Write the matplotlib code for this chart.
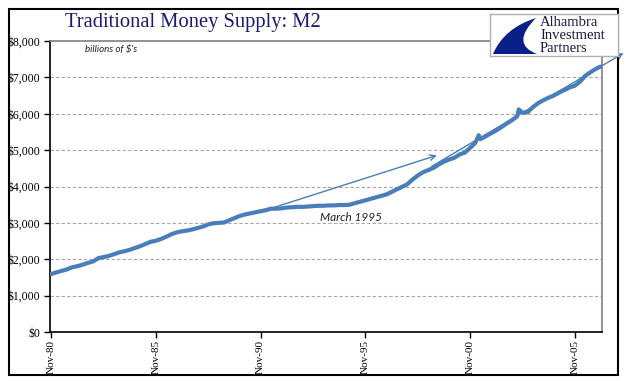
import matplotlib
matplotlib.use('Agg')
import matplotlib.pyplot as plt
import pandas as pd
from matplotlib.patches import Rectangle, PathPatch
from matplotlib.path import Path

months = [
    '1980-11', '1981-02', '1981-05', '1981-08', '1981-11', '1982-02', '1982-05', '1982-08', '1982-11',
    '1983-02', '1983-05', '1983-08', '1983-11', '1984-02', '1984-05', '1984-08', '1984-11',
    '1985-02', '1985-05', '1985-08', '1985-11', '1986-02', '1986-05', '1986-08', '1986-11',
    '1987-02', '1987-05', '1987-08', '1987-11', '1988-02', '1988-05', '1988-08', '1988-11',
    '1989-02', '1989-05', '1989-08', '1989-11', '1990-02', '1990-05', '1990-08', '1990-11',
    '1991-02', '1991-05', '1991-08', '1991-11', '1992-02', '1992-05', '1992-08', '1992-11',
    '1993-02', '1993-05', '1993-08', '1993-11', '1994-02', '1994-05', '1994-08', '1994-11',
    '1995-02', '1995-05', '1995-08', '1995-11', '1996-02', '1996-05', '1996-08', '1996-11',
    '1997-02', '1997-05', '1997-08', '1997-11', '1998-02', '1998-05', '1998-08', '1998-11',
    '1999-02', '1999-05', '1999-08', '1999-11', '2000-02', '2000-05', '2000-08', '2000-11',
    '2001-02', '2001-04', '2001-05', '2001-08', '2001-11', '2002-02', '2002-05', '2002-08', '2002-11',
    '2003-02', '2003-03', '2003-05', '2003-08', '2003-11', '2004-02', '2004-05', '2004-08', '2004-11',
    '2005-02', '2005-05', '2005-08', '2005-11', '2006-02', '2006-05', '2006-08', '2006-11',
    '2007-02',
]
m2 = [
    1595, 1640, 1680, 1720, 1780, 1810, 1850, 1900, 1940,
    2030, 2060, 2090, 2140, 2190, 2220, 2260, 2310,
    2360, 2420, 2480, 2510, 2560, 2620, 2690, 2740,
    2770, 2790, 2820, 2860, 2900, 2960, 2990, 3000,
    3010, 3070, 3130, 3190, 3230, 3260, 3290, 3320,
    3350, 3390, 3390, 3400, 3420, 3430, 3440, 3440,
    3450, 3460, 3470, 3470, 3480, 3480, 3490, 3490,
    3500, 3540, 3580, 3620, 3660, 3700, 3740, 3780,
    3850, 3920, 3990, 4060, 4190, 4300, 4390, 4450,
    4510, 4600, 4680, 4740, 4790, 4880, 4930, 5060,
    5200, 5410, 5300, 5380, 5460, 5540, 5630, 5730, 5820,
    5930, 6120, 6030, 6040, 6180, 6290, 6370, 6440, 6500,
    6580, 6650, 6720, 6770, 6880, 7040, 7140, 7230,
    7300,
]
x_ticks = ['1980-11', '1985-11', '1990-11', '1995-11', '2000-11', '2005-11']
x_tick_labels = ['Nov-80', 'Nov-85', 'Nov-90', 'Nov-95', 'Nov-00', 'Nov-05']
y_ticks = [0, 1000, 2000, 3000, 4000, 5000, 6000, 7000, 8000]
y_tick_labels = ['$0', '$1,000', '$2,000', '$3,000', '$4,000', '$5,000', '$6,000', '$7,000', '$8,000']

arrow1 = (('1999-01', 4552), ('2008-03', 7669))
arrow2 = (('1991-01', 3338), ('1999-04', 4855))
note = ('1995-03', 3140, 'March 1995')

W, H = 641, 381
fig = plt.figure(figsize=(W / 100, H / 100), dpi=100)

def fx(px):
    return px / W

def fy(py):
    return 1 - py / H

ax = fig.add_axes([fx(50), fy(332), fx(602) - fx(50), fy(41) - fy(332)])
dates = pd.to_datetime(months)
blue = '#4a7ebb'
ax.plot(dates, m2, color=blue, lw=3.0, solid_capstyle='round', solid_joinstyle='round', zorder=3)

ax.set_ylim(0, 8000)
ax.set_xlim(pd.Timestamp('1980-10-10'), pd.Timestamp('2007-02-20'))
ax.set_yticks(y_ticks)
ax.set_yticklabels(y_tick_labels)
ax.set_xticks(pd.to_datetime(x_ticks))
ax.set_xticklabels(x_tick_labels, rotation=90)
for lab in ax.get_yticklabels():
    lab.set_fontfamily('Liberation Serif')
    lab.set_fontsize(8.5)
for lab in ax.get_xticklabels():
    lab.set_fontfamily('Liberation Serif')
    lab.set_fontsize(8)
ax.tick_params(axis='both', direction='out', length=4, width=1, pad=3, colors='black')
ax.tick_params(axis='x', pad=2)

for y in y_ticks[1:-1]:
    ax.axhline(y, color='#a6a6a6', lw=0.8, ls=(0, (3, 2)), zorder=1)

for side in ('left', 'bottom'):
    ax.spines[side].set_color('black')
    ax.spines[side].set_linewidth(1.2)
for side in ('top', 'right'):
    ax.spines[side].set_color('#808080')
    ax.spines[side].set_linewidth(1.2)

for (s, e) in (arrow1, arrow2):
    ax.annotate('', xy=(pd.Timestamp(e[0]), e[1]), xytext=(pd.Timestamp(s[0]), s[1]),
                arrowprops=dict(arrowstyle='->', color=blue, lw=1.0, shrinkA=0, shrinkB=0,
                                mutation_scale=10),
                annotation_clip=False, zorder=4)

ax.text(pd.Timestamp(note[0]), note[1], note[2], ha='center', va='center',
        fontsize=8.5, style='italic', family='Lato', color='#222222')
ax.text(0.063, 0.972, "billions of $'s", transform=ax.transAxes, ha='left', va='center',
        fontsize=7, style='italic', family='Lato', color='#222222')

# title
fig.text(fx(65), fy(23), 'Traditional Money Supply: M2', ha='left', va='center',
         fontsize=14.8, family='Liberation Serif', color='#1a1a70')

# logo
lax = fig.add_axes([fx(490), fy(56), fx(618) - fx(490), fy(14) - fy(56)], zorder=5)
lax.set_xlim(0, 128)
lax.set_ylim(42, 0)
lax.set_xticks([])
lax.set_yticks([])
lax.set_facecolor('white')
for sp in lax.spines.values():
    sp.set_color('#b0b0b0')
    sp.set_linewidth(1)
verts = [(46, 4), (14, 14), (3, 40), (47, 40), (20, 30), (46, 4)]
codes = [Path.MOVETO, Path.CURVE3, Path.CURVE3, Path.LINETO, Path.CURVE3, Path.CURVE3]
lax.add_patch(PathPatch(Path(verts, codes), facecolor='#0b1f8a', edgecolor='none'))
for i, word in enumerate(['Alhambra', 'Investment', 'Partners']):
    lax.text(50, 9 + i * 12.5, word, ha='left', va='center', fontsize=10.5,
             family='Liberation Serif', color='#1a1a40')

# outer border
fig.add_artist(Rectangle((fx(9), fy(375)), fx(618) - fx(9), fy(9) - fy(375),
                         transform=fig.transFigure, fill=False, edgecolor='black', lw=1.5))

fig.savefig('out.png', dpi=100)
